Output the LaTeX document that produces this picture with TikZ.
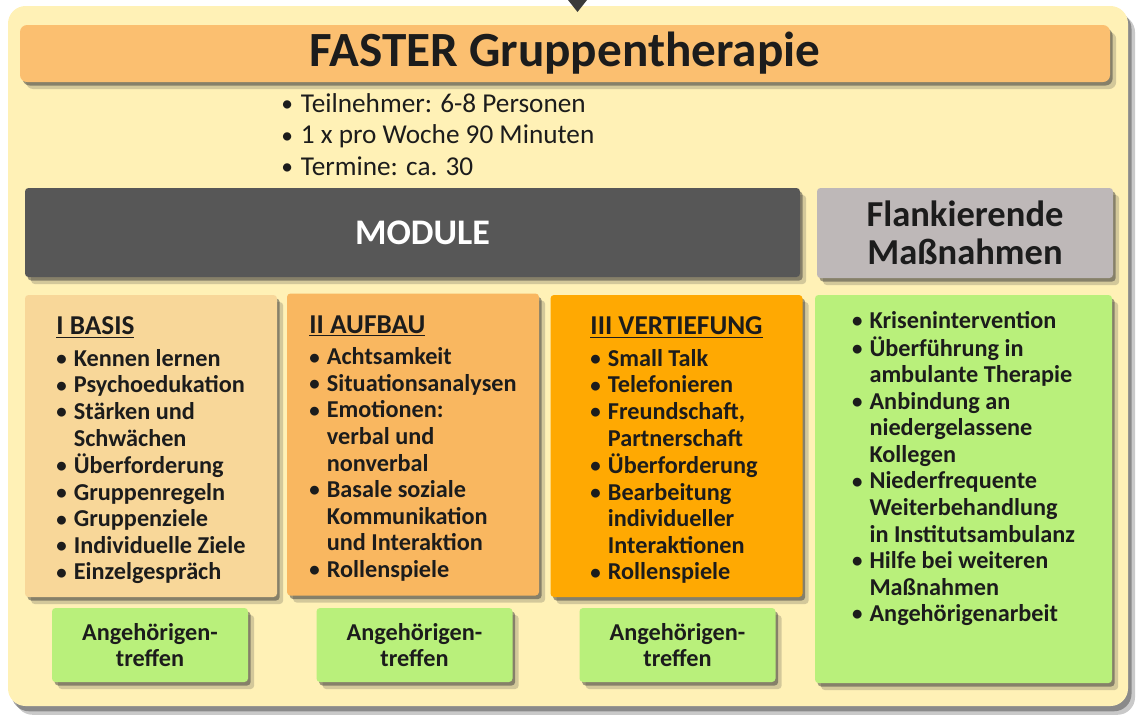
\documentclass[tikz,border=0pt]{standalone}
\usepackage{fontspec}
\setmainfont{Carlito}
\usepackage{graphicx}
\usepackage{tikz}
\usetikzlibrary{positioning,shadows}
\definecolor{ftPanel}{HTML}{FFF1B6}
\definecolor{ftTitle}{HTML}{FBBF70}
\definecolor{ftModule}{HTML}{575757}
\definecolor{ftFlank}{HTML}{BEB8B8}
\definecolor{ftBasis}{HTML}{F8D799}
\definecolor{ftAufbau}{HTML}{F9B760}
\definecolor{ftVertief}{HTML}{FFA902}
\definecolor{ftGreen}{HTML}{B9F07B}
\definecolor{ftShadow}{HTML}{3A3A3A}
\definecolor{ftText}{HTML}{1C1C1C}
\tikzset{
  ftshadow/.style={
    drop shadow={shadow xshift=3.5pt, shadow yshift=-4pt, fill=ftShadow, opacity=0.22},
    drop shadow={shadow xshift=1.5pt, shadow yshift=-2pt, fill=ftShadow, opacity=0.5}},
  ftnode/.style={rounded corners=2pt, inner sep=0pt, align=center, text=ftText, ftshadow},
  panel/.style={fill=ftPanel, rounded corners=10pt, inner sep=0pt,
    drop shadow={shadow xshift=4pt, shadow yshift=-5pt, fill=black!70, opacity=0.3},
    drop shadow={shadow xshift=2pt, shadow yshift=-3pt, fill=black!70, opacity=0.5}},
  titlebar/.style={ftnode, fill=ftTitle, rounded corners=4pt, minimum width=21.8cm,
    minimum height=11.4mm, font=\fontsize{28}{32}\selectfont\bfseries},
  modulebar/.style={ftnode, fill=ftModule, text=white, minimum width=15.5cm,
    minimum height=17.8mm, font=\fontsize{20.5}{24}\selectfont\bfseries},
  flankhead/.style={ftnode, fill=ftFlank, minimum width=5.92cm, minimum height=18mm,
    font=\fontsize{20.8}{21.5}\selectfont\bfseries},
  modbox/.style={ftnode, minimum width=5.04cm, minimum height=6.04cm},
  sidebox/.style={ftnode, fill=ftGreen, minimum width=5.94cm, minimum height=7.76cm},
  meetbox/.style={ftnode, fill=ftGreen, minimum width=3.92cm, minimum height=14.8mm,
    font=\fontsize{13.8}{14.7}\selectfont\bfseries},
  listtext/.style={inner sep=0pt, align=left, text=ftText,
    font=\fontsize{13.8}{15.1}\selectfont\bfseries},
  infotext/.style={inner sep=0pt, align=left, text=ftText,
    font=\fontsize{15.5}{17.9}\selectfont},
  arrowtip/.style={fill=ftShadow}
}
\newcommand{\bl}{\raisebox{0.06ex}{\scalebox{0.86}{\textbullet}}}
\newcommand{\hd}[1]{\multicolumn{2}{@{}l@{}}{\fontsize{15.5}{15.1}\selectfont\underline{#1}}\\[3pt]}

\begin{document}
\begin{tikzpicture}
  \useasboundingbox (0,0) rectangle (22.72,-14.42);
  \node[panel, minimum width=22.4cm, minimum height=14cm] (panel) at (11.36,-7.12) {};
  \fill[arrowtip] (11.36,0) -- (11.74,0) -- (11.55,-0.24) -- cycle;
  \node[titlebar] (title) at (11.3,-1.07) {FASTER Gruppentherapie};
  \node[infotext, anchor=north west] (info) at (5.62,-1.8) {%
    \begin{tabular}{@{}l@{\hspace{4.5pt}}l@{}}
      \bl & Teilnehmer: 6-8 Personen\\
      \bl & 1 x pro Woche 90 Minuten\\
      \bl & Termine: ca. 30
    \end{tabular}};
  \node[modulebar] (module) at (8.25,-4.65) {\hspace*{4mm}MODULE};
  \node[flankhead] (flank) at (19.3,-4.66) {Flankierende\\Maßnahmen};

  \node[modbox, fill=ftBasis] (basis) at (3.02,-8.92) {};
  \node[modbox, fill=ftAufbau] (aufbau) at (8.26,-8.89) {};
  \node[modbox, fill=ftVertief] (vertief) at (13.53,-8.92) {};
  \node[sidebox] (side) at (19.27,-9.78) {};

  \node[listtext, below=4.2mm of basis.north] (basistxt) {%
    \begin{tabular}{@{}l@{\hspace{4pt}}l@{}}
      \hd{I BASIS}
      \bl & Kennen lernen\\
      \bl & Psychoedukation\\
      \bl & Stärken und\\
          & Schwächen\\
      \bl & Überforderung\\
      \bl & Gruppenregeln\\
      \bl & Gruppenziele\\
      \bl & Individuelle Ziele\\
      \bl & Einzelgespräch
    \end{tabular}};
  \node[listtext, below=4.2mm of aufbau.north] (aufbautxt) {%
    \begin{tabular}{@{}l@{\hspace{4pt}}l@{}}
      \hd{II AUFBAU}
      \bl & Achtsamkeit\\
      \bl & Situationsanalysen\\
      \bl & Emotionen:\\
          & verbal und\\
          & nonverbal\\
      \bl & Basale soziale\\
          & Kommunikation\\
          & und Interaktion\\
      \bl & Rollenspiele
    \end{tabular}};
  \node[listtext, below=4.2mm of vertief.north] (vertieftxt) {%
    \begin{tabular}{@{}l@{\hspace{4pt}}l@{}}
      \hd{III VERTIEFUNG}
      \bl & Small Talk\\
      \bl & Telefonieren\\
      \bl & Freundschaft,\\
          & Partnerschaft\\
      \bl & Überforderung\\
      \bl & Bearbeitung\\
          & individueller\\
          & Interaktionen\\
      \bl & Rollenspiele
    \end{tabular}};
  \node[listtext, below=3mm of side.north] (sidetxt) {%
    \begin{tabular}{@{}l@{\hspace{4pt}}l@{}}
      \bl & Krisenintervention\\
      \bl & Überführung in\\
          & ambulante Therapie\\
      \bl & Anbindung an\\
          & niedergelassene\\
          & Kollegen\\
      \bl & Niederfrequente\\
          & Weiterbehandlung\\
          & in Institutsambulanz\\
      \bl & Hilfe bei weiteren\\
          & Maßnahmen\\
      \bl & Angehörigenarbeit
    \end{tabular}};

  \node[meetbox] (meet1) at (3.0,-12.9) {Angehörigen-\\treffen};
  \node[meetbox] (meet2) at (8.29,-12.9) {Angehörigen-\\treffen};
  \node[meetbox] (meet3) at (13.55,-12.9) {Angehörigen-\\treffen};
\end{tikzpicture}
\end{document}
